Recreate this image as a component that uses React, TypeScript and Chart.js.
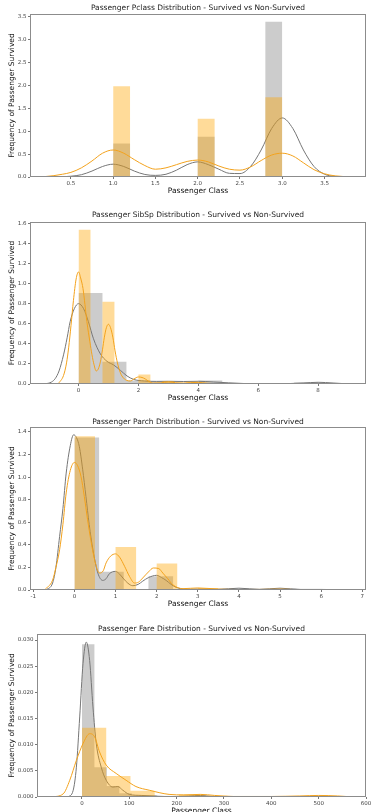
import React, { useEffect, useRef } from "react";
import { Chart, registerables } from "chart.js";

Chart.register(...registerables);

const FONT = "'DejaVu Sans', 'Liberation Sans', sans-serif";

// ---------- Panel 1: Pclass ----------
const pclassEdges = [1.0, 1.2, 1.4, 1.6, 1.8, 2.0, 2.2, 2.4, 2.6, 2.8, 3.0];
const pclassDiedHist = [0.73, 0, 0, 0, 0, 0.88, 0, 0, 0, 3.39];
const pclassSurvHist = [1.98, 0, 0, 0, 0, 1.27, 0, 0, 0, 1.74];
const pclassDiedKdeX = [0.25, 0.4, 0.5, 0.625, 0.75, 0.875, 1.0, 1.125, 1.25, 1.375, 1.5, 1.625, 1.75, 1.875, 2.0, 2.125, 2.25, 2.375, 2.5, 2.625, 2.75, 2.875, 3.0, 3.125, 3.25, 3.375, 3.5, 3.625, 3.75];
const pclassDiedKdeY = [0.0, 0.005, 0.017, 0.05, 0.13, 0.23, 0.28, 0.23, 0.13, 0.055, 0.035, 0.06, 0.15, 0.27, 0.33, 0.27, 0.17, 0.08, 0.075, 0.23, 0.59, 1.06, 1.29, 1.06, 0.59, 0.23, 0.06, 0.012, 0.002];
const pclassSurvKdeX = [0.2, 0.3, 0.4, 0.5, 0.625, 0.75, 0.875, 1.0, 1.125, 1.25, 1.375, 1.5, 1.625, 1.75, 1.875, 2.0, 2.125, 2.25, 2.375, 2.5, 2.625, 2.75, 2.875, 3.0, 3.125, 3.25, 3.375, 3.5, 3.625, 3.8];
const pclassSurvKdeY = [0.01, 0.03, 0.06, 0.1, 0.2, 0.35, 0.52, 0.59, 0.52, 0.38, 0.25, 0.17, 0.2, 0.27, 0.34, 0.37, 0.33, 0.24, 0.17, 0.15, 0.22, 0.36, 0.48, 0.52, 0.46, 0.31, 0.16, 0.07, 0.025, 0.004];
const pclassXTicks = [0.5, 1.0, 1.5, 2.0, 2.5, 3.0, 3.5];
const pclassYTicks = [0.0, 0.5, 1.0, 1.5, 2.0, 2.5, 3.0, 3.5];

// ---------- Panel 2: SibSp ----------
const sibspDiedEdges = [0, 0.8, 1.6, 2.4, 3.2, 4.0, 4.8, 5.6, 6.4, 7.2, 8.0];
const sibspDiedHist = [0.906, 0.221, 0.034, 0.027, 0, 0.034, 0.011, 0, 0, 0.016];
const sibspSurvEdges = [0, 0.4, 0.8, 1.2, 1.6, 2.0, 2.4, 2.8, 3.2, 3.6, 4.0];
const sibspSurvHist = [1.535, 0, 0.819, 0, 0, 0.095, 0, 0.029, 0, 0.022];
const sibspDiedKdeX = [-1.12, -0.9, -0.78, -0.65, -0.5, -0.38, -0.28, -0.14, 0, 0.17, 0.33, 0.5, 0.73, 0.95, 1.17, 1.4, 1.62, 1.84, 2.2, 2.6, 3.0, 3.5, 4.0, 4.5, 5.0, 5.5, 6.0, 6.5, 7.0, 7.5, 8.0, 8.5, 9.06];
const sibspDiedKdeY = [0, 0.02, 0.053, 0.13, 0.29, 0.46, 0.62, 0.75, 0.8, 0.75, 0.62, 0.45, 0.3, 0.226, 0.19, 0.136, 0.08, 0.046, 0.03, 0.026, 0.027, 0.025, 0.027, 0.02, 0.012, 0.005, 0.003, 0.002, 0.004, 0.01, 0.017, 0.01, 0];
const sibspSurvKdeX = [-0.67, -0.5, -0.4, -0.33, -0.25, -0.17, -0.08, 0, 0.08, 0.15, 0.28, 0.38, 0.45, 0.52, 0.59, 0.66, 0.73, 0.8, 0.86, 0.93, 1.0, 1.07, 1.15, 1.22, 1.3, 1.4, 1.5, 1.62, 1.73, 1.85, 2.0, 2.12, 2.23, 2.35, 2.5, 2.75, 3.0, 3.25, 3.5, 3.75, 4.0, 4.3, 4.7];
const sibspSurvKdeY = [0.005, 0.085, 0.21, 0.36, 0.585, 0.83, 1.045, 1.116, 1.045, 0.95, 0.62, 0.42, 0.29, 0.19, 0.13, 0.15, 0.22, 0.34, 0.46, 0.56, 0.595, 0.56, 0.46, 0.33, 0.21, 0.11, 0.06, 0.035, 0.03, 0.05, 0.07, 0.065, 0.05, 0.025, 0.01, 0.012, 0.02, 0.013, 0.01, 0.014, 0.016, 0.008, 0];
const sibspXTicks = [0, 2, 4, 6, 8];
const sibspYTicks = [0.0, 0.2, 0.4, 0.6, 0.8, 1.0, 1.2, 1.4, 1.6];

// ---------- Panel 3: Parch ----------
const parchDiedEdges = [0, 0.6, 1.2, 1.8, 2.4, 3.0, 3.6, 4.2, 4.8, 5.4, 6.0];
const parchDiedHist = [1.351, 0.161, 0, 0.121, 0, 0.006, 0.012, 0, 0.012, 0.003];
const parchSurvEdges = [0, 0.5, 1.0, 1.5, 2.0, 2.5, 3.0, 3.5, 4.0, 4.5, 5.0];
const parchSurvHist = [1.363, 0, 0.38, 0, 0.234, 0, 0.018, 0, 0, 0.006];
const parchDiedKdeX = [-0.69, -0.53, -0.45, -0.36, -0.28, -0.2, -0.1, -0.02, 0.05, 0.12, 0.2, 0.28, 0.36, 0.45, 0.57, 0.69, 0.77, 0.85, 1.0, 1.1, 1.18, 1.3, 1.42, 1.55, 1.66, 1.8, 2.0, 2.12, 2.23, 2.35, 2.47, 2.7, 3.0, 3.5, 4.0, 4.5, 5.0, 5.5, 6.0, 6.7];
const parchDiedKdeY = [0, 0.062, 0.2, 0.475, 0.72, 1.036, 1.28, 1.375, 1.35, 1.27, 1.07, 0.83, 0.58, 0.357, 0.15, 0.085, 0.1, 0.144, 0.165, 0.14, 0.106, 0.06, 0.038, 0.05, 0.078, 0.11, 0.13, 0.11, 0.085, 0.05, 0.024, 0.006, 0.008, 0.006, 0.016, 0.006, 0.016, 0.005, 0.005, 0];
const parchSurvKdeX = [-0.73, -0.53, -0.45, -0.36, -0.28, -0.2, -0.1, 0, 0.08, 0.16, 0.24, 0.32, 0.4, 0.49, 0.61, 0.7, 0.77, 0.88, 1.0, 1.1, 1.22, 1.34, 1.46, 1.56, 1.66, 1.8, 1.92, 2.05, 2.15, 2.27, 2.39, 2.64, 3.0, 3.5, 4.0, 4.5, 5.0, 5.4, 5.8];
const parchSurvKdeY = [0, 0.088, 0.2, 0.357, 0.58, 0.86, 1.06, 1.13, 1.1, 1.006, 0.83, 0.623, 0.44, 0.27, 0.15, 0.17, 0.24, 0.3, 0.32, 0.29, 0.21, 0.12, 0.062, 0.07, 0.106, 0.16, 0.195, 0.19, 0.15, 0.1, 0.047, 0.012, 0.018, 0.008, 0.004, 0.005, 0.008, 0.003, 0];
const parchXTicks = [-1, 0, 1, 2, 3, 4, 5, 6, 7];
const parchYTicks = [0.0, 0.2, 0.4, 0.6, 0.8, 1.0, 1.2, 1.4];

// ---------- Panel 4: Fare ----------
const fareDiedEdges = [0, 26.3, 52.6, 78.9, 105.2, 131.5, 157.8, 184.1, 210.4, 236.7, 263];
const fareDiedHist = [0.0292, 0.0057, 0.0021, 0.0007, 0.00035, 0.00035, 0, 0, 0.0002, 0.00028];
const fareSurvEdges = [0, 51.23, 102.47, 153.7, 204.93, 256.17, 307.4, 358.63, 409.87, 461.1, 512.33];
const fareSurvHist = [0.01324, 0.004, 0.0012, 0.0002, 0.00046, 0.00023, 0, 0, 0, 0.00017];
const fareDiedKdeX = [-29, -18.8, -11.8, -4.8, 2.2, 9.2, 16.2, 23.2, 30.2, 40.7, 51.2, 65.2, 75.7, 86.2, 100, 125, 150, 175, 200, 225, 250, 275, 300];
const fareDiedKdeY = [0, 0.0012, 0.0057, 0.0153, 0.0255, 0.0296, 0.0261, 0.0172, 0.0102, 0.0057, 0.0032, 0.0019, 0.002, 0.0013, 0.0005, 0.0003, 0.0002, 0.0001, 0.0001, 0.0002, 0.0003, 0.0001, 0];
const fareSurvKdeX = [-64, -39.7, -25.8, -11.8, 2.2, 16.2, 26.7, 37.2, 51.2, 72.2, 93.2, 114, 142, 184, 215, 250, 280, 320, 400, 460, 500, 540, 575];
const fareSurvKdeY = [0, 0.0006, 0.0032, 0.007, 0.0102, 0.0121, 0.0115, 0.0086, 0.0061, 0.0045, 0.0032, 0.002, 0.0013, 0.0005, 0.0004, 0.0005, 0.0003, 0.0001, 0.0001, 0.0002, 0.0003, 0.0002, 0];
const fareXTicks = [0, 100, 200, 300, 400, 500, 600];
const fareYTicks = [0.0, 0.005, 0.01, 0.015, 0.02, 0.025, 0.03];

const X_LABEL = "Passenger Class";
const Y_LABEL = "Frequency of Passenger Survived";

// ---------- styling ----------
const GRAY_FILL = "rgba(128,128,128,0.4)";
const ORANGE_FILL = "rgba(255,165,0,0.4)";
const GRAY_LINE = "#767676";
const ORANGE_LINE = "#f3a21c";
const TICK_COLOR = "#444";
const FRAME_COLOR = "#8c8c8c";

type PanelCfg = {
  title: string;
  top: number;
  height: number;
  diedEdges: number[];
  diedHist: number[];
  survEdges: number[];
  survHist: number[];
  diedKdeX: number[];
  diedKdeY: number[];
  survKdeX: number[];
  survKdeY: number[];
  xTicks: number[];
  yTicks: number[];
  xDec: number;
  yDec: number;
  xMin: number;
  xMax: number;
  yMax: number;
  yAxisW: number;
  xAxisH: number;
  titlePad: { top: number; bottom: number };
  xTitlePadBottom: number;
};

const panels: PanelCfg[] = [
  {
    title: "Passenger Pclass Distribution - Survived vs Non-Survived",
    top: 0, height: 205,
    diedEdges: pclassEdges, diedHist: pclassDiedHist,
    survEdges: pclassEdges, survHist: pclassSurvHist,
    diedKdeX: pclassDiedKdeX, diedKdeY: pclassDiedKdeY,
    survKdeX: pclassSurvKdeX, survKdeY: pclassSurvKdeY,
    xTicks: pclassXTicks, yTicks: pclassYTicks, xDec: 1, yDec: 1,
    xMin: 0.017, xMax: 3.99, yMax: 3.56,
    yAxisW: 30, xAxisH: 28, titlePad: { top: 3.5, bottom: 1.5 }, xTitlePadBottom: 9.5,
  },
  {
    title: "Passenger SibSp Distribution - Survived vs Non-Survived",
    top: 205, height: 205,
    diedEdges: sibspDiedEdges, diedHist: sibspDiedHist,
    survEdges: sibspSurvEdges, survHist: sibspSurvHist,
    diedKdeX: sibspDiedKdeX, diedKdeY: sibspDiedKdeY,
    survKdeX: sibspSurvKdeX, survKdeY: sibspSurvKdeY,
    xTicks: sibspXTicks, yTicks: sibspYTicks, xDec: 0, yDec: 1,
    xMin: -1.62, xMax: 9.6, yMax: 1.613,
    yAxisW: 30, xAxisH: 26, titlePad: { top: 5.8, bottom: 2.2 }, xTitlePadBottom: 7.5,
  },
  {
    title: "Passenger Parch Distribution - Survived vs Non-Survived",
    top: 410, height: 205,
    diedEdges: parchDiedEdges, diedHist: parchDiedHist,
    survEdges: parchSurvEdges, survHist: parchSurvHist,
    diedKdeX: parchDiedKdeX, diedKdeY: parchDiedKdeY,
    survKdeX: parchSurvKdeX, survKdeY: parchSurvKdeY,
    xTicks: parchXTicks, yTicks: parchYTicks, xDec: 0, yDec: 1,
    xMin: -1.08, xMax: 7.09, yMax: 1.444,
    yAxisW: 30, xAxisH: 25, titlePad: { top: 7.5, bottom: 0.5 }, xTitlePadBottom: 6.5,
  },
  {
    title: "Passenger Fare Distribution - Survived vs Non-Survived",
    top: 615, height: 205,
    diedEdges: fareDiedEdges, diedHist: fareDiedHist,
    survEdges: fareSurvEdges, survHist: fareSurvHist,
    diedKdeX: fareDiedKdeX, diedKdeY: fareDiedKdeY,
    survKdeX: fareSurvKdeX, survKdeY: fareSurvKdeY,
    xTicks: fareXTicks, yTicks: fareYTicks, xDec: 0, yDec: 3,
    xMin: -95, xMax: 600, yMax: 0.03115,
    yAxisW: 37, xAxisH: 23, titlePad: { top: 9.8, bottom: 0.2 }, xTitlePadBottom: 4.5,
  },
];

function histPoints(edges: number[], heights: number[]) {
  return edges.map((e, i) => ({ x: e, y: i < heights.length ? heights[i] : 0 }));
}
function kdePoints(xs: number[], ys: number[]) {
  return xs.map((x, i) => ({ x, y: ys[i] }));
}

const framePlugin = {
  id: "axesFrame",
  afterDatasetsDraw(chart: any) {
    const { ctx, chartArea } = chart;
    const l = Math.round(chartArea.left) + 0.5;
    const t = Math.round(chartArea.top) + 0.5;
    const r = Math.round(chartArea.right) - 0.5;
    const b = Math.round(chartArea.bottom) - 0.5;
    ctx.save();
    ctx.strokeStyle = FRAME_COLOR;
    ctx.lineWidth = 1;
    ctx.strokeRect(l, t, r - l, b - t);
    ctx.restore();
  },
};

function Panel({ cfg }: { cfg: PanelCfg }) {
  const ref = useRef<HTMLCanvasElement | null>(null);
  useEffect(() => {
    if (!ref.current) return;
    const tickFont = { family: FONT, size: 5.5 };
    const labelFont = { family: FONT, size: 7.5, lineHeight: 1.2 };
    const chart = new Chart(ref.current, {
      type: "line",
      data: {
        datasets: [
          {
            data: histPoints(cfg.diedEdges, cfg.diedHist),
            stepped: "before",
            fill: "origin",
            backgroundColor: GRAY_FILL,
            borderColor: "rgba(0,0,0,0)",
            borderWidth: 0,
            pointRadius: 0,
            order: 4,
          },
          {
            data: kdePoints(cfg.diedKdeX, cfg.diedKdeY),
            borderColor: GRAY_LINE,
            borderWidth: 1,
            pointRadius: 0,
            fill: false,
            cubicInterpolationMode: "monotone",
            order: 3,
          },
          {
            data: histPoints(cfg.survEdges, cfg.survHist),
            stepped: "before",
            fill: "origin",
            backgroundColor: ORANGE_FILL,
            borderColor: "rgba(0,0,0,0)",
            borderWidth: 0,
            pointRadius: 0,
            order: 2,
          },
          {
            data: kdePoints(cfg.survKdeX, cfg.survKdeY),
            borderColor: ORANGE_LINE,
            borderWidth: 1,
            pointRadius: 0,
            fill: false,
            cubicInterpolationMode: "monotone",
            order: 1,
          },
        ],
      } as any,
      options: {
        responsive: false,
        animation: false,
        devicePixelRatio: 1,
        layout: { padding: { left: 0, right: 14, top: 0, bottom: 0 } },
        plugins: {
          legend: { display: false },
          tooltip: { enabled: false },
          title: {
            display: true,
            text: cfg.title,
            fullSize: false,
            color: "#222",
            font: { family: FONT, size: 7.5, weight: "normal", lineHeight: 1.2 },
            padding: cfg.titlePad,
          },
        },
        scales: {
          x: {
            type: "linear",
            min: cfg.xMin,
            max: cfg.xMax,
            afterFit: (s: any) => { s.height = cfg.xAxisH; },
            afterBuildTicks: (s: any) => { s.ticks = cfg.xTicks.map((v) => ({ value: v })); },
            border: { display: false },
            grid: { display: true, drawOnChartArea: false, drawTicks: true, tickLength: 2, color: "#777" },
            ticks: {
              autoSkip: false,
              maxRotation: 0,
              padding: 1,
              color: TICK_COLOR,
              font: tickFont,
              callback: (v: any) => Number(v).toFixed(cfg.xDec),
            },
            title: {
              display: true,
              text: X_LABEL,
              color: "#111",
              font: labelFont,
              padding: { top: 0, bottom: cfg.xTitlePadBottom },
            },
          },
          y: {
            type: "linear",
            min: 0,
            max: cfg.yMax,
            afterFit: (s: any) => { s.width = cfg.yAxisW; },
            afterBuildTicks: (s: any) => { s.ticks = cfg.yTicks.map((v) => ({ value: v })); },
            border: { display: false },
            grid: { display: true, drawOnChartArea: false, drawTicks: true, tickLength: 2, color: "#777" },
            ticks: {
              autoSkip: false,
              padding: 1.5,
              color: TICK_COLOR,
              font: tickFont,
              callback: (v: any) => Number(v).toFixed(cfg.yDec),
            },
            title: {
              display: true,
              text: Y_LABEL,
              color: "#111",
              font: labelFont,
              padding: { top: 7.5, bottom: 0 },
            },
          },
        },
      } as any,
      plugins: [framePlugin],
    });
    return () => chart.destroy();
  }, [cfg]);
  return (
    <canvas
      ref={ref}
      width={380}
      height={cfg.height}
      style={{ position: "absolute", left: 0, top: cfg.top, width: 380, height: cfg.height, display: "block" }}
    />
  );
}

export default function App() {
  return (
    <div
      style={{
        position: "fixed",
        left: 0,
        top: 0,
        width: 380,
        height: 812,
        overflow: "hidden",
        background: "#fff",
      }}
    >
      {panels.map((p) => (
        <Panel key={p.title} cfg={p} />
      ))}
    </div>
  );
}
